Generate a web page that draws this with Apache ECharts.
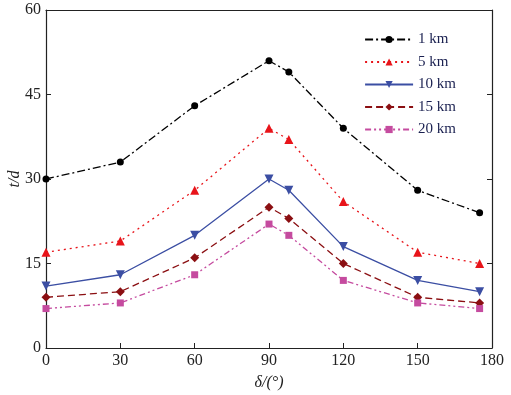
<!DOCTYPE html>
<html>
<head>
<meta charset="utf-8">
<script src="https://cdn.jsdelivr.net/npm/echarts@6/dist/echarts.min.js"></script>
<style>
  html, body { margin: 0; padding: 0; background: #fff; }
  #main { width: 511px; height: 395px; }
</style>
</head>
<body>
<div id="main"></div>
<script>
var chart = echarts.init(document.getElementById('main'));

// angle values (deg)
var angles = [0, 30, 60, 90, 98, 120, 150, 175];
var names = ['1 km', '5 km', '10 km', '15 km', '20 km'];
var t1 = [30, 33, 43, 51, 49, 39, 28, 24];
var t5 = [17, 19, 28, 39, 37, 26, 17, 15];
var t10 = [11, 13, 20, 30, 28, 18, 12, 10];
var t15 = [9, 10, 16, 25, 23, 15, 9, 8];
var t20 = [7, 8, 13, 22, 20, 12, 8, 7];
var xTicks = [0, 30, 60, 90, 120, 150, 180];
var yTicks = [0, 15, 30, 45, 60];

var font = 'Liberation Serif';

function pairs(vals) {
  return angles.map(function (a, i) { return [a, vals[i]]; });
}

function mk(name, vals, color, symbol, size, lineType) {
  return {
    name: name,
    type: 'line',
    data: pairs(vals),
    symbol: symbol,
    symbolSize: size,
    lineStyle: { color: color, width: 1.3, type: lineType },
    itemStyle: { color: color },
    animation: false
  };
}

function axisBase(showTick) {
  return {
    axisLine: { show: true, onZero: false, lineStyle: { color: '#222', width: 1.2 } },
    axisTick: { show: showTick, inside: true, length: 5, lineStyle: { color: '#222' } },
    splitLine: { show: false }
  };
}

option = {
  backgroundColor: '#fff',
  grid: { left: 46, right: 19, top: 10, bottom: 47, outerBoundsMode: 'none' },
  legend: {
    orient: 'vertical',
    right: 50,
    top: 27,
    itemGap: 7.5,
    itemWidth: 48,
    itemHeight: 9,
    textStyle: { fontFamily: font, fontSize: 15, color: '#1a2050' },
    data: names
  },
  xAxis: [
    Object.assign({
      type: 'value', min: 0, max: 180, interval: 30,
      name: 'δ/(°)', nameLocation: 'middle', nameGap: 27,
      nameTextStyle: { fontFamily: font, fontSize: 16, color: '#222', fontStyle: 'italic' },
      axisLabel: { fontFamily: font, fontSize: 16, color: '#222', margin: 5 }
    }, axisBase(true)),
    Object.assign({
      type: 'value', min: 0, max: 180, interval: 30, position: 'top',
      axisLabel: { show: false }
    }, axisBase(false))
  ],
  yAxis: [
    Object.assign({
      type: 'value', min: 0, max: 60, interval: 15,
      name: 't/d', nameLocation: 'middle', nameGap: 23, nameMoveOverlap: false,
      nameTextStyle: { fontFamily: font, fontSize: 16, color: '#222', fontStyle: 'italic' },
      axisLabel: { fontFamily: font, fontSize: 16, color: '#222', margin: 5 }
    }, axisBase(true)),
    Object.assign({
      type: 'value', min: 0, max: 60, interval: 15, position: 'right',
      axisLabel: { show: false }
    }, axisBase(true))
  ],
  series: [
    mk(names[0], t1, '#000000', 'circle', 7, [8, 3, 2, 3]),
    mk(names[1], t5, '#e8141a', 'triangle', 9, [2, 4]),
    mk(names[2], t10, '#3b4ea3', 'path://M0,0 L10,0 L5,9 Z', 9, 'solid'),
    mk(names[3], t15, '#8b0f12', 'diamond', 9, [7, 4]),
    mk(names[4], t20, '#c54b9f', 'rect', 7, [6, 3, 2, 3, 2, 3])
  ]
};

chart.setOption(option);
</script>
</body>
</html>
